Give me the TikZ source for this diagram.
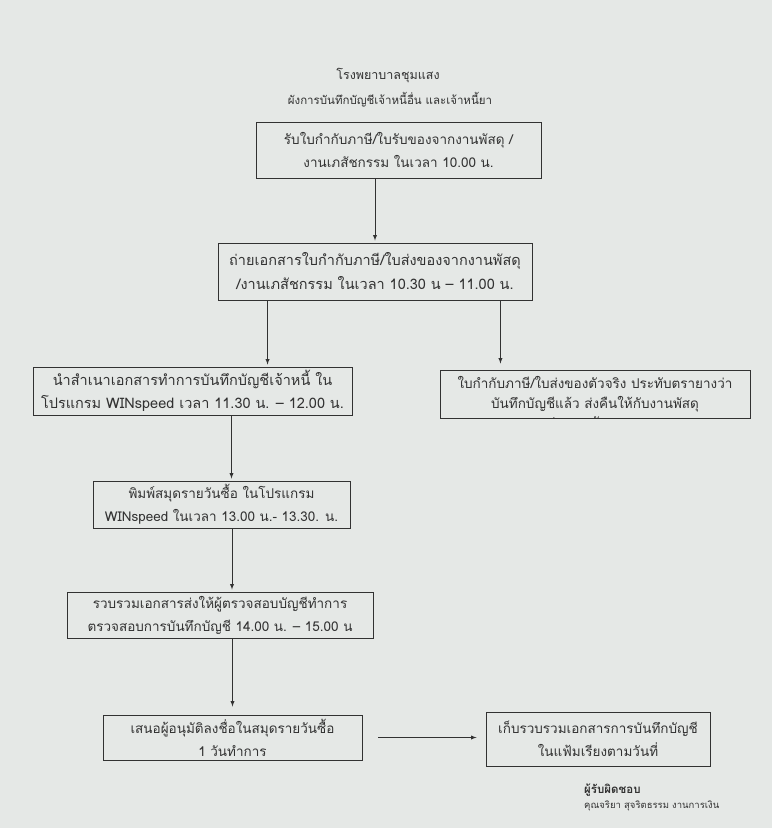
\documentclass[tikz,border=0pt]{standalone}
\usepackage{fontspec}
\setmainfont[Script=Thai]{Loma}
\usepackage{tikz}
\usetikzlibrary{arrows}
\definecolor{paper}{RGB}{229,232,230}
\definecolor{ink}{RGB}{50,50,50}

\begin{document}
\begin{tikzpicture}[x=1pt,y=-1pt,inner sep=0pt,
  box/.style={draw=ink,line width=0.9pt,align=center,text=ink,
    font=\fontsize{13.5}{23}\selectfont},
  arr/.style={draw=ink,line width=0.9pt,-latex,shorten >=2pt}]
\fill[paper] (0,0) rectangle (772,828);
\useasboundingbox (0,0) rectangle (772,828);

\node[text=ink,font=\fontsize{12.5}{16}\selectfont] (hosp) at (388,75) {โรงพยาบาลชุมแสง};
\node[text=ink,font=\fontsize{11.5}{16}\selectfont] (title) at (390,100) {ผังการบันทึกบัญชีเจ้าหนี้อื่น และเจ้าหนี้ยา};

\node[box,minimum width=285,minimum height=56] (recv) at (398.5,150)
  {รับใบกำกับภาษี/ใบรับของจากงานพัสดุ /\\งานเภสัชกรรม ในเวลา 10.00 น.};
\node[box,minimum width=314,minimum height=57,font=\fontsize{14.5}{24}\selectfont] (copy) at (375,271.5)
  {ถ่ายเอกสารใบกำกับภาษี/ใบส่งของจากงานพัสดุ\\/งานเภสัชกรรม ในเวลา 10.30 น – 11.00 น.};
\node[box,minimum width=319,minimum height=48,font=\fontsize{14.5}{23}\selectfont] (post) at (192.5,391)
  {นำสำเนาเอกสารทำการบันทึกบัญชีเจ้าหนี้ ใน\\โปรแกรม WINspeed เวลา 11.30 น. – 12.00 น.};
\node[box,minimum width=310,minimum height=48,font=\fontsize{13.5}{20}\selectfont] (stamp) at (595,394)
  {ใบกำกับภาษี/ใบส่งของตัวจริง ประทับตรายางว่า\\บันทึกบัญชีแล้ว ส่งคืนให้กับงานพัสดุ};
\begin{scope}
\clip (stamp.north west) rectangle (stamp.south east);
\node[text=ink,font=\fontsize{13.5}{20}\selectfont] (stampmore) at (595,422) {/งานเภสัชกรรม};
\end{scope}
\node[box,minimum width=257,minimum height=47] (print) at (221.5,504.5)
  {พิมพ์สมุดรายวันซื้อ ในโปรแกรม\\WINspeed ในเวลา 13.00 น.- 13.30. น.};
\node[box,minimum width=306,minimum height=46] (check) at (220,615)
  {รวบรวมเอกสารส่งให้ผู้ตรวจสอบบัญชีทำการ\\ตรวจสอบการบันทึกบัญชี  14.00 น. – 15.00 น};
\node[box,minimum width=259,minimum height=45] (approve) at (232.5,737.5)
  {เสนอผู้อนุมัติลงชื่อในสมุดรายวันซื้อ\\1 วันทำการ};
\node[box,minimum width=224,minimum height=54] (file) at (598,739)
  {เก็บรวบรวมเอกสารการบันทึกบัญชี\\ในแฟ้มเรียงตามวันที่};

\node[anchor=west,text=ink,font=\fontsize{11.5}{13}\bfseries] (resp) at (584,790) {ผู้รับผิดชอบ};
\node[anchor=west,text=ink,font=\fontsize{9.5}{11}\selectfont] (person) at (584,806) {คุณจริยา สุจริตธรรม งานการเงิน};

\path (recv.south -| copy.north) edge[arr] (copy.north);
\path ([xshift=50]copy.south west) edge[arr] ([xshift=50]copy.south west |- post.north);
\path ([xshift=-32]copy.south east) edge[arr,shorten >=6pt] ([xshift=-32]copy.south east |- stamp.north);
\path ([xshift=10]print.north |- post.south) edge[arr] ([xshift=10]print.north);
\path ([xshift=12]check.north |- print.south) edge[arr] ([xshift=12]check.north);
\path (check.south -| approve.north) edge[arr,shorten >=8pt] (approve.north);
\path (approve.east) edge[arr,shorten <=16pt,shorten >=9pt] (approve.east -| file.west);
\end{tikzpicture}
\end{document}
